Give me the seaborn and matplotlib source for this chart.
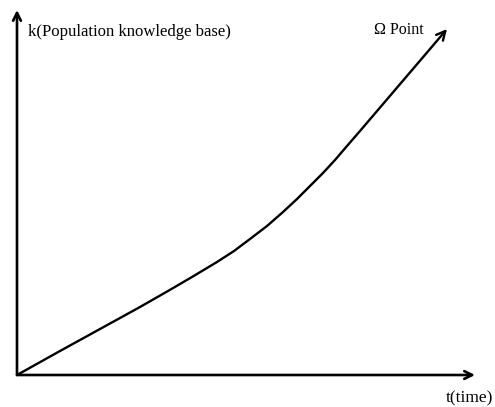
import matplotlib
matplotlib.use("Agg")
import matplotlib.pyplot as plt
import seaborn as sns
import pandas as pd

# Curve (t: time, k: knowledge base)
t_vals = [0, 43, 83, 123, 151, 175, 200, 217, 233, 250, 266, 280, 295, 306, 318, 330, 343, 378, 413, 430]
k_vals = [0, 24, 46, 68, 84, 98, 113, 124, 136, 149, 163, 176, 191, 202, 215, 229, 244, 285, 326, 346]

y_label = "k(Population knowledge base)"
x_label = "t(time)"
end_label = "Ω Point"

sns.set_theme(style="white")
plt.rcParams['font.family'] = ['Liberation Serif', 'DejaVu Serif']

fig = plt.figure(figsize=(4.95, 4.07), dpi=100)
ax = fig.add_axes([0, 0, 1, 1])
ax.set_xlim(-17, 478)
ax.set_ylim(-32, 375)
ax.axis('off')

df = pd.DataFrame({"t": t_vals[:-1], "k": k_vals[:-1]})
sns.lineplot(data=df, x="t", y="k", ax=ax, color="black", lw=1.7, sort=False)
ax.lines[-1].set_solid_joinstyle("round")
ax.annotate("", xy=(t_vals[-1], k_vals[-1]), xytext=(t_vals[-2], k_vals[-2]),
            arrowprops=dict(arrowstyle="->", color="black", lw=1.7,
                            shrinkA=0, shrinkB=0, mutation_scale=16))

# axes arrows
ax.annotate("", xy=(0, 365), xytext=(0, 0),
            arrowprops=dict(arrowstyle="->", color="black", lw=1.9,
                            shrinkA=0, shrinkB=0, mutation_scale=14))
ax.annotate("", xy=(458, 0), xytext=(0, 0),
            arrowprops=dict(arrowstyle="->", color="black", lw=1.9,
                            shrinkA=0, shrinkB=0, mutation_scale=14))

ax.text(11, 343, y_label, ha="left", va="center", fontsize=12, color="black")
ax.text(382, 345, end_label, ha="center", va="center", fontsize=11.5, color="black")
ax.text(452, -23, x_label, ha="center", va="center", fontsize=12.5, color="black")

fig.savefig("out.png", dpi=100)
